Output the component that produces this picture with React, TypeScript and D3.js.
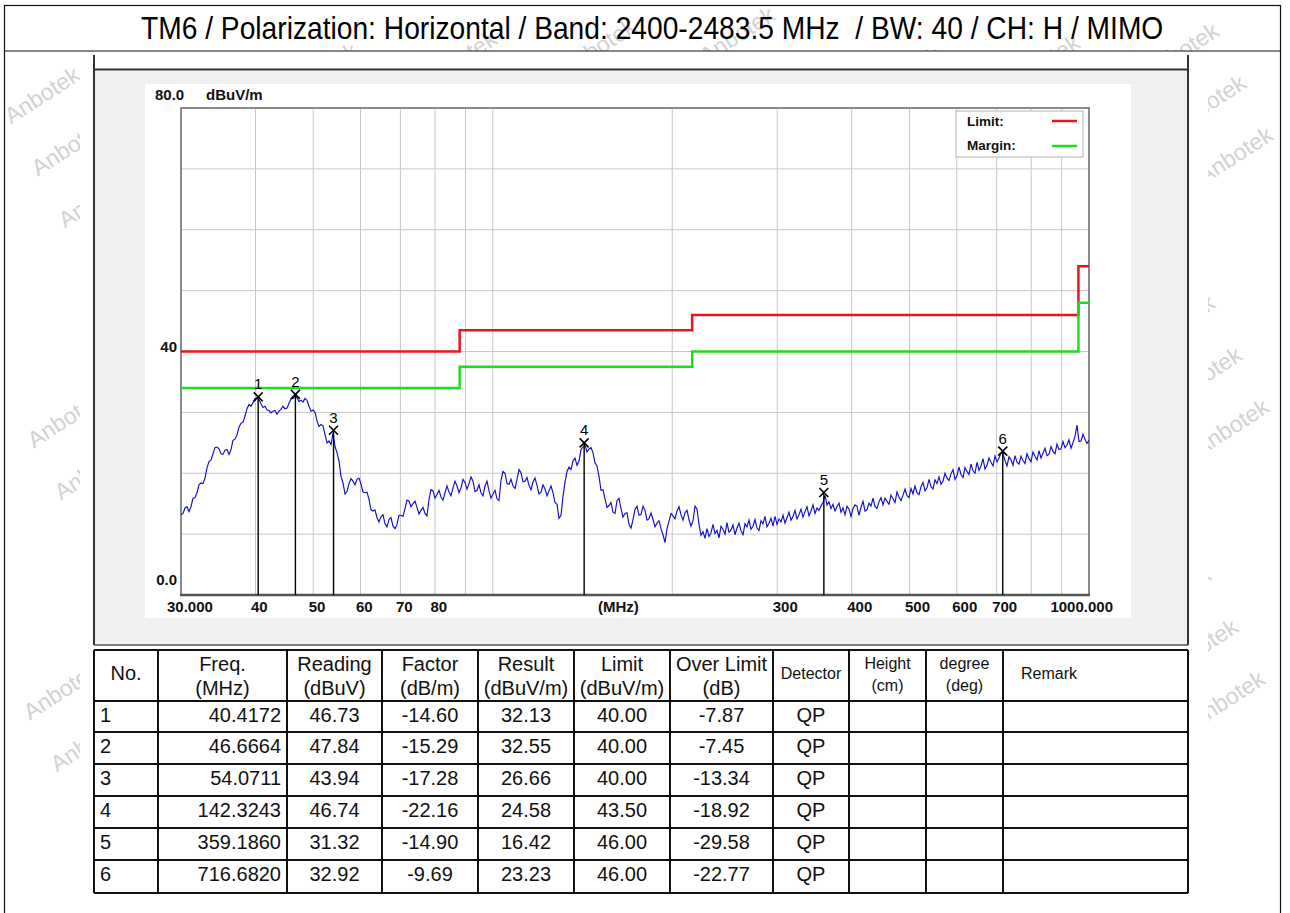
import * as d3 from 'd3'

// --- DATA ---
const TITLE = 'TM6 / Polarization: Horizontal / Band: 2400-2483.5 MHz  / BW: 40 / CH: H / MIMO'
const WATERMARK = 'Anbotek'

const FREQ_MIN = 30
const FREQ_MAX = 1000
const LEVEL_MIN = 0
const LEVEL_MAX = 80

const gridFreqs = [40, 50, 60, 70, 80, 90, 100, 200, 300, 400, 500, 600, 700, 800, 900]
const gridLevels = [10, 20, 30, 40, 50, 60, 70]

const xTickFreqs = [30, 40, 50, 60, 70, 80, 300, 400, 500, 600, 700, 1000]
const xTickText = ['30.000', '40', '50', '60', '70', '80', '300', '400', '500', '600', '700', '1000.000']

// limit line and margin (limit - 6 dB), each level holds until the next break
const limitFreqs = [30, 88, 216, 960, 1000]
const limitLevels = [40, 43.5, 46, 54, 54]
const marginLevels = [34, 37.5, 40, 48, 48]

// sweep levels (dBuV/m), log spaced sweep points from 30 to 1000 MHz
const traceLevels = [
  13.2, 13.4, 14.3, 14.5, 13.7, 14.5, 15.9, 16.0, 16.8, 18.1,
  18.4, 18.3, 19.2, 20.9, 21.9, 22.2, 23.2, 24.2, 24.3, 24.0,
  23.2, 23.1, 23.8, 23.9, 23.1, 23.9, 25.4, 25.6, 26.3, 27.6,
  28.2, 28.4, 29.4, 30.6, 31.3, 31.0, 31.6, 32.3, 32.4, 32.1,
  31.4, 30.8, 31.0, 30.4, 30.3, 29.9, 30.2, 30.3, 29.7, 30.2,
  30.5, 31.0, 30.6, 30.7, 31.5, 32.2, 32.3, 32.6, 32.4, 31.8,
  32.0, 31.7, 32.3, 32.0, 31.0, 30.2, 30.4, 30.0, 28.6, 27.7,
  28.0, 27.8, 26.4, 25.0, 25.3, 24.7, 26.6, 24.4, 23.4, 22.0,
  19.5, 18.4, 16.6, 17.0, 18.3, 19.1, 18.7, 18.1, 19.0, 19.2,
  18.2, 16.9, 16.8, 16.9, 15.7, 14.0, 13.8, 14.0, 12.7, 12.0,
  12.9, 13.2, 11.7, 11.2, 12.4, 12.7, 11.3, 10.9, 11.6, 13.1,
  13.1, 12.9, 14.2, 15.6, 15.4, 14.5, 15.0, 15.4, 14.4, 13.3,
  13.9, 14.4, 13.4, 13.0, 15.7, 17.3, 17.1, 15.9, 16.5, 17.2,
  16.1, 15.6, 16.8, 17.9, 16.9, 16.3, 17.6, 18.7, 17.9, 16.8,
  17.6, 19.0, 18.5, 17.4, 18.3, 19.4, 18.7, 17.0, 17.2, 18.1,
  16.8, 16.3, 17.9, 18.7, 17.1, 15.9, 16.6, 17.2, 15.8, 15.5,
  18.8, 20.3, 20.0, 18.3, 18.2, 19.0, 17.9, 17.5, 19.0, 20.6,
  20.1, 18.6, 18.7, 19.3, 18.0, 17.3, 18.6, 19.2, 18.0, 16.6,
  16.9, 18.1, 17.4, 16.3, 17.1, 17.9, 16.8, 15.2, 14.9, 12.6,
  13.1, 16.2, 18.5, 20.3, 21.0, 20.6, 22.0, 22.5, 21.3, 22.0,
  23.9, 24.3, 24.6, 23.5, 24.0, 24.2, 23.4, 21.7, 21.2, 19.5,
  17.2, 17.3, 15.8, 14.4, 14.7, 15.2, 13.6, 13.4, 15.5, 15.9,
  14.2, 12.8, 13.4, 13.5, 11.6, 11.0, 12.4, 14.1, 14.6, 13.1,
  13.2, 14.6, 13.9, 12.3, 12.5, 13.5, 12.4, 11.2, 11.8, 12.2,
  10.9, 9.9, 8.6, 10.9, 12.1, 13.4, 13.0, 12.5, 13.8, 14.5,
  13.2, 12.3, 13.5, 13.9, 12.4, 11.3, 12.2, 14.6, 14.1, 11.6,
  9.8, 10.4, 9.3, 10.9, 9.6, 10.2, 11.6, 10.1, 10.6, 9.4,
  11.3, 10.8, 10.0, 11.9, 10.3, 10.7, 11.5, 9.9, 11.0, 11.8,
  10.6, 9.9, 11.7, 11.2, 12.3, 10.8, 11.3, 12.4, 11.0, 10.6,
  12.2, 11.7, 12.9, 11.2, 11.8, 12.6, 11.3, 12.9, 11.6, 12.5,
  12.0, 13.1, 11.8, 12.7, 13.6, 12.3, 12.9, 13.9, 12.5, 13.2,
  14.1, 12.8, 13.7, 14.5, 13.0, 13.8, 14.8, 13.4, 14.3, 13.9,
  14.6, 15.2, 16.4, 14.8, 15.3, 14.2, 14.9, 13.8, 14.5, 15.1,
  13.6, 14.3, 13.2, 14.6, 14.1, 12.9, 14.2, 14.8, 14.6, 13.1,
  14.4, 15.4, 13.8, 14.0, 15.1, 14.6, 15.9, 14.5, 14.2, 15.3,
  16.0, 14.8, 15.9, 15.4, 14.9, 16.4, 15.8, 15.2, 16.9, 16.1,
  15.5, 16.4, 17.4, 16.3, 16.0, 17.5, 16.6, 17.9, 16.8, 16.5,
  17.8, 18.5, 17.1, 17.6, 19.0, 17.8, 17.4, 18.9, 18.3, 19.4,
  18.2, 18.7, 20.0, 19.2, 18.8, 19.9, 20.6, 19.0, 19.6, 21.0,
  19.8, 19.3, 20.9, 20.3, 19.8, 21.5, 20.4, 20.0, 21.8, 20.5,
  21.2, 22.4, 20.7, 21.3, 22.5, 21.8, 21.2, 22.8, 21.9, 22.5,
  23.3, 23.2, 22.1, 21.2, 22.7, 22.2, 21.3, 22.9, 21.8, 21.5,
  22.8, 22.1, 21.6, 23.2, 22.4, 21.9, 23.5, 22.8, 22.2, 23.7,
  22.5, 23.3, 24.1, 22.9, 23.1, 24.4, 23.6, 23.2, 24.8, 23.9,
  24.0, 25.2, 24.2, 24.6, 25.5, 24.1, 25.0, 26.1, 27.9, 25.2,
  25.3, 26.4, 25.6, 24.9, 25.4,
]

// marker table
const markerNo = ['1', '2', '3', '4', '5', '6']
const markerFreq = [40.4172, 46.6664, 54.0711, 142.3243, 359.186, 716.682]
const markerFreqText = ['40.4172', '46.6664', '54.0711', '142.3243', '359.1860', '716.6820']
const markerReading = ['46.73', '47.84', '43.94', '46.74', '31.32', '32.92']
const markerFactor = ['-14.60', '-15.29', '-17.28', '-22.16', '-14.90', '-9.69']
const markerResult = [32.13, 32.55, 26.66, 24.58, 16.42, 23.23]
const markerLimit = ['40.00', '40.00', '40.00', '43.50', '46.00', '46.00']
const markerOver = ['-7.87', '-7.45', '-13.34', '-18.92', '-29.58', '-22.77']
const markerDetector = ['QP', 'QP', 'QP', 'QP', 'QP', 'QP']

const tableHeaders = [
  ['No.'],
  ['Freq.', '(MHz)'],
  ['Reading', '(dBuV)'],
  ['Factor', '(dB/m)'],
  ['Result', '(dBuV/m)'],
  ['Limit', '(dBuV/m)'],
  ['Over Limit', '(dB)'],
  ['Detector'],
  ['Height', '(cm)'],
  ['degree', '(deg)'],
  ['Remark'],
]

// --- LAYOUT ---
const W = 1290
const H = 913
const PLOT = { left: 181, right: 1089, top: 108, bottom: 595 }
const COLS = [94, 158, 287, 382, 478, 574, 670, 773, 849, 926, 1003, 1188]
const ROWS = [650, 701, 732, 764, 796, 828, 860, 893]
const FONT = '"Liberation Sans", Arial, sans-serif'

const RED = '#e8161b'
const GREEN = '#1fdc1f'
const BLUE = '#1010c8'

export default function App() {
  const x = d3.scaleLog().domain([FREQ_MIN, FREQ_MAX]).range([PLOT.left, PLOT.right])
  const y = d3.scaleLinear().domain([LEVEL_MIN, LEVEL_MAX]).range([PLOT.bottom, PLOT.top])

  const n = traceLevels.length
  const traceFreqs = d3.range(n).map((i) => FREQ_MIN * Math.pow(FREQ_MAX / FREQ_MIN, i / (n - 1)))
  const tracePath = d3
    .line<number>()
    .x((_, i) => x(traceFreqs[i]))
    .y((d) => y(d))(traceLevels)

  const stepLine = d3
    .line<[number, number]>()
    .x((d) => x(d[0]))
    .y((d) => y(d[1]))
    .curve(d3.curveStepAfter)
  const limitPath = stepLine(limitFreqs.map((f, i) => [f, limitLevels[i]]))
  const marginPath = stepLine(limitFreqs.map((f, i) => [f, marginLevels[i]]))

  // watermark lattice, only where it shows (page margins + title band)
  const marks: [number, number][] = []
  for (let i = -4; i < 14; i++) {
    for (let j = -4; j < 22; j++) {
      const mx = 42 + 139 * i + 27 * j
      const my = 95 - 12 * i + 52 * j
      if (mx < 42 || mx > 1248 || my < 32 || my > 880) continue
      if (mx < 118 || mx > 1170 || my < 80) marks.push([mx, my])
    }
  }

  const cellText = [markerNo, markerFreqText, markerReading, markerFactor,
    markerResult.map((v) => v.toFixed(2)), markerLimit, markerOver, markerDetector]

  return (
    <div style={{ position: 'absolute', left: 0, top: 0 }}>
      <svg width={W} height={H} style={{ display: 'block', background: '#fff' }} fontFamily={FONT}>
        <defs>
          <clipPath id="plot-clip">
            <rect x={PLOT.left} y={PLOT.top} width={PLOT.right - PLOT.left} height={PLOT.bottom - PLOT.top} />
          </clipPath>
          <clipPath id="wm-clip">
            <rect x={5} y={6} width={75} height={H} />
            <rect x={1208} y={6} width={72} height={H} />
            <rect x={5} y={6} width={1275} height={45} />
          </clipPath>
        </defs>

        {/* watermark */}
        <g clipPath="url(#wm-clip)" fontSize={23} fill="#d2d2d2">
          {marks.map(([mx, my], k) => (
            <text key={'wm' + k} x={mx} y={my + 8} textAnchor="middle" transform={`rotate(-33 ${mx} ${my})`}>
              {WATERMARK}
            </text>
          ))}
        </g>

        {/* outer frame + title */}
        <rect x={4.5} y={5.5} width={1276} height={920} fill="none" stroke="#111" strokeWidth={1.2} />
        <line x1={4.5} x2={1280.5} y1={51} y2={51} stroke="#111" strokeWidth={1.2} />
        <text
          transform="translate(141,39.3) scale(1,1.12)"
          fontSize={28.2}
          fill="#000"
          style={{ whiteSpace: 'pre' }}
        >
          {TITLE}
        </text>

        {/* chart panel */}
        <rect x={94} y={69} width={1094} height={576} fill="#f0f0f0" />
        <line x1={94} x2={94} y1={55} y2={645} stroke="#333" strokeWidth={2} />
        <line x1={1188} x2={1188} y1={55} y2={645} stroke="#333" strokeWidth={2} />
        <line x1={94} x2={1188} y1={69.5} y2={69.5} stroke="#333" strokeWidth={2} />
        <line x1={94} x2={1188} y1={645} y2={645} stroke="#555" strokeWidth={1.5} />
        <rect x={145} y={84} width={986} height={534} fill="#fff" />

        {/* grid */}
        <g stroke="#c8c8c8" strokeWidth={1}>
          {gridFreqs.map((f) => (
            <line key={'gx' + f} x1={x(f)} x2={x(f)} y1={PLOT.top} y2={PLOT.bottom} />
          ))}
          {gridLevels.map((v) => (
            <line key={'gy' + v} x1={PLOT.left} x2={PLOT.right} y1={y(v)} y2={y(v)} />
          ))}
        </g>

        {/* plot frame */}
        <path
          d={`M${PLOT.left},${PLOT.bottom}V${PLOT.top}H${PLOT.right}V${PLOT.bottom}`}
          fill="none"
          stroke="#8a8a8a"
          strokeWidth={2}
        />
        <line x1={PLOT.left - 1} x2={PLOT.right + 1} y1={PLOT.bottom} y2={PLOT.bottom} stroke="#555" strokeWidth={2.5} />

        {/* axis labels */}
        <g fontWeight="bold" fontSize={15} fill="#111">
          <text x={155} y={y(80) - 13 + 5.4}>80.0</text>
          <text x={206} y={y(80) - 13 + 5.4}>dBuV/m</text>
          <text x={177} y={y(40) - 4.5 + 5.4} textAnchor="end">40</text>
          <text x={177} y={y(0) - 15 + 5.4} textAnchor="end">0.0</text>
          {xTickFreqs.map((f, i) => {
            const last = i === xTickFreqs.length - 1
            const first = i === 0
            return (
              <text
                key={'xt' + f}
                x={first ? x(f) - 14 : last ? x(f) + 24 : x(f) - 4.5}
                y={PLOT.bottom + 16.5}
                textAnchor={last ? 'end' : 'start'}
              >
                {xTickText[i]}
              </text>
            )
          })}
          <text x={598} y={PLOT.bottom + 16.5}>(MHz)</text>
        </g>

        {/* limit + margin */}
        <path d={limitPath ?? ''} fill="none" stroke={RED} strokeWidth={2.5} clipPath="url(#plot-clip)" />
        <path d={marginPath ?? ''} fill="none" stroke={GREEN} strokeWidth={2.5} clipPath="url(#plot-clip)" />

        {/* trace */}
        <path d={tracePath ?? ''} fill="none" stroke={BLUE} strokeWidth={1.15} clipPath="url(#plot-clip)" />

        {/* markers */}
        {markerFreq.map((f, i) => {
          const cx = x(f)
          const cy = y(markerResult[i]) - 2.5
          return (
            <g key={'mk' + i}>
              <line x1={cx} x2={cx} y1={cy} y2={PLOT.bottom} stroke="#000" strokeWidth={1.4} />
              <path
                d={`M${cx - 4.5},${cy - 4.5}L${cx + 4.5},${cy + 4.5}M${cx - 4.5},${cy + 4.5}L${cx + 4.5},${cy - 4.5}`}
                stroke="#000"
                strokeWidth={1.6}
              />
              <text x={cx} y={cy - 7.5} textAnchor="middle" fontSize={15} fill="#000">
                {markerNo[i]}
              </text>
            </g>
          )
        })}

        {/* legend */}
        <rect x={956} y={111} width={127} height={46} fill="#fff" stroke="#b0b0b0" strokeWidth={1} />
        <g fontWeight="bold" fontSize={13.5} fill="#111">
          <text x={967} y={125.5}>Limit:</text>
          <text x={967} y={150}>Margin:</text>
        </g>
        <line x1={1052} x2={1077} y1={121} y2={121} stroke={RED} strokeWidth={2.5} />
        <line x1={1052} x2={1077} y1={146} y2={146} stroke={GREEN} strokeWidth={2.5} />

        {/* table */}
        <rect x={COLS[0]} y={ROWS[0]} width={COLS[COLS.length - 1] - COLS[0]} height={ROWS[ROWS.length - 1] - ROWS[0]} fill="#fff" />
        <g fill="#111">
          {tableHeaders.map((lines, c) => {
            const cx = (COLS[c] + COLS[c + 1]) / 2
            const small = c >= 7
            const fs = small ? 16 : 20
            if (c === 10) {
              return (
                <text key={'h' + c} x={1021} y={679} fontSize={fs}>
                  {lines[0]}
                </text>
              )
            }
            if (lines.length === 1) {
              return (
                <text key={'h' + c} x={cx} y={small ? 679 : 680} fontSize={fs} textAnchor="middle">
                  {lines[0]}
                </text>
              )
            }
            return (
              <g key={'h' + c} fontSize={fs} textAnchor="middle">
                <text x={cx} y={small ? 668.5 : 671}>{lines[0]}</text>
                <text x={cx} y={small ? 691 : 695}>{lines[1]}</text>
              </g>
            )
          })}
          {markerNo.map((_, r) =>
            cellText.map((col, c) => {
              const top = ROWS[r + 1]
              const cx = (COLS[c] + COLS[c + 1]) / 2
              const anchor = c === 0 ? 'start' : c === 1 ? 'end' : 'middle'
              const tx = c === 0 ? COLS[0] + 6 : c === 1 ? COLS[2] - 6 : cx
              return (
                <text key={`c${r}-${c}`} x={tx} y={top + 21} fontSize={20} textAnchor={anchor}>
                  {col[r]}
                </text>
              )
            })
          )}
        </g>
        <g stroke="#111" strokeWidth={2}>
          {ROWS.map((ry) => (
            <line key={'r' + ry} x1={COLS[0]} x2={COLS[COLS.length - 1]} y1={ry} y2={ry} />
          ))}
          {COLS.map((cx) => (
            <line key={'c' + cx} x1={cx} x2={cx} y1={ROWS[0]} y2={ROWS[ROWS.length - 1]} />
          ))}
        </g>
      </svg>
    </div>
  )
}
